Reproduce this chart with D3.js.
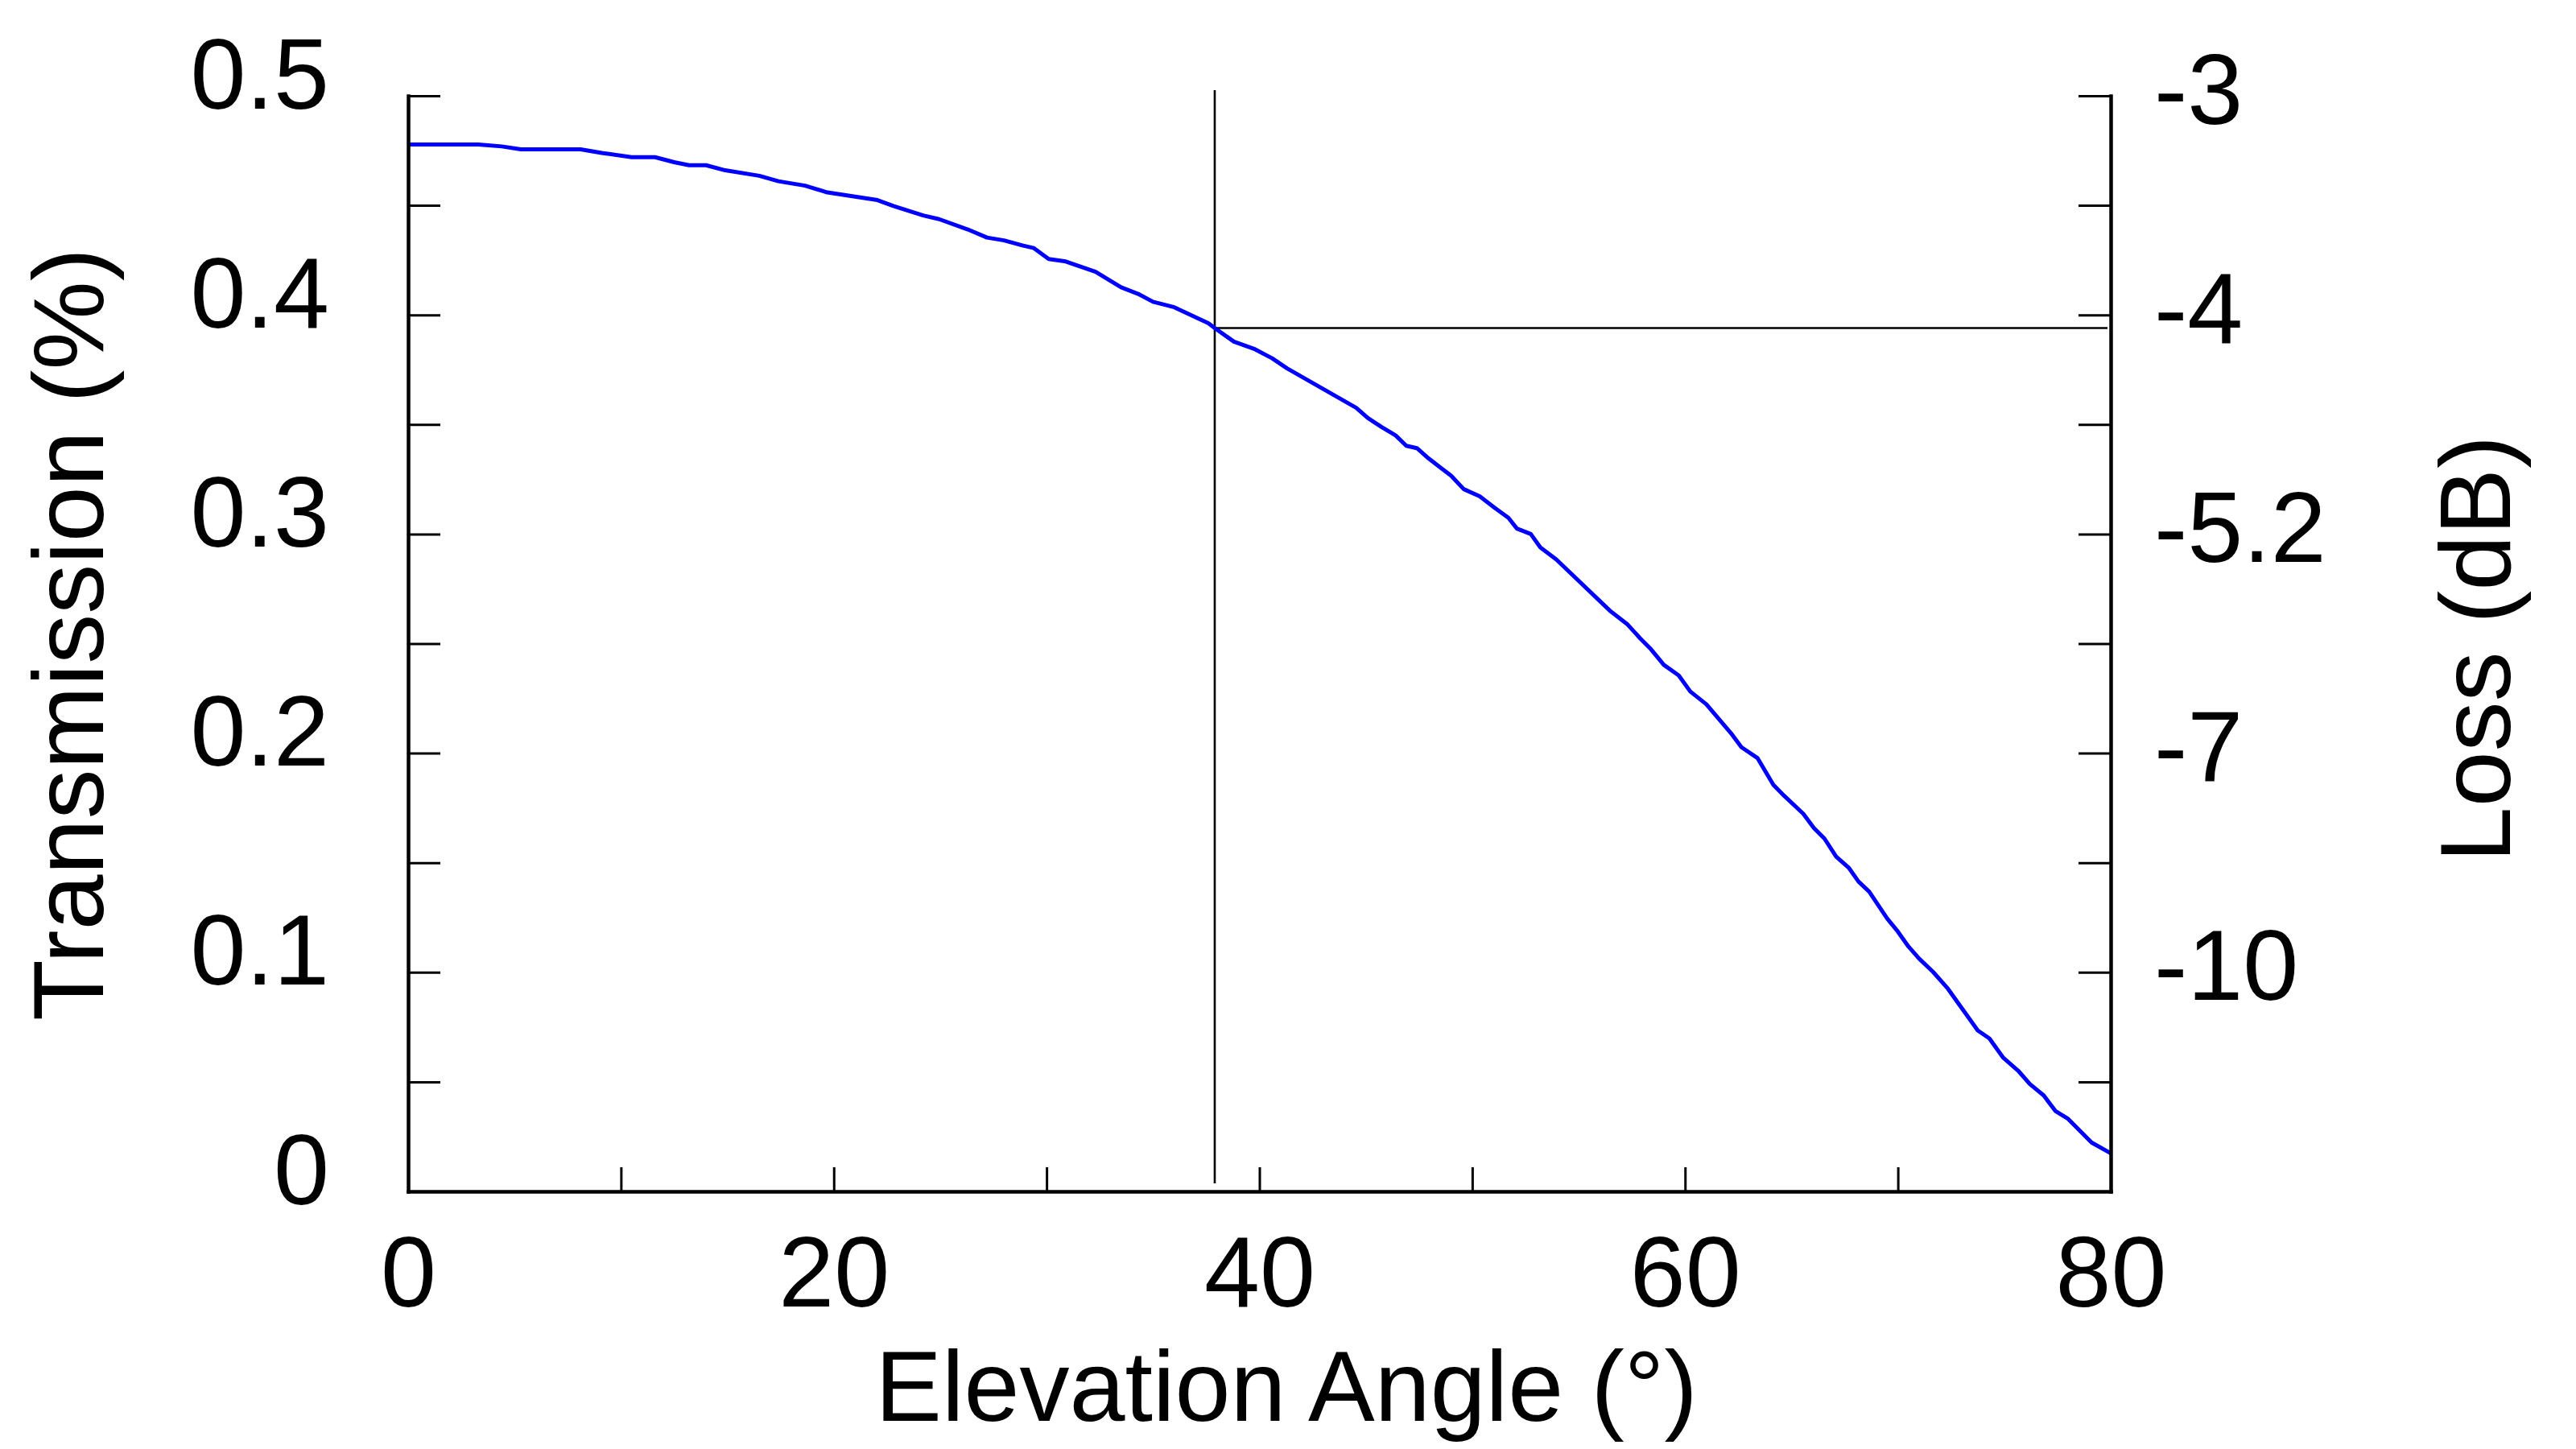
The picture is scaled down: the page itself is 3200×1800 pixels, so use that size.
<!DOCTYPE html>
<html>
<head>
<meta charset="utf-8">
<script src="https://cdn.jsdelivr.net/npm/d3@7"></script>
<style>
  html, body { margin: 0; padding: 0; background: #ffffff; }
  svg { display: block; }
  text { font-family: "Liberation Sans", Arial, Helvetica, sans-serif; fill: #000; }
</style>
</head>
<body>
<svg id="chart" width="3200" height="1800"></svg>
<script>
// ---- data ----
const angles = [0, 3.3, 4.4, 5.3, 8.1, 9.1, 10.5, 11.6, 12.5, 13.2, 14.0, 14.9, 16.5, 17.4, 18.65,
  19.7, 22.05, 22.8, 24.2, 24.95, 26.3, 27.2, 28.0, 28.9, 29.4, 30.1, 30.9, 32.3, 33.5, 34.3,
  35.0, 36.0, 37.6, 37.9, 38.8, 39.8, 40.6, 41.3, 44.55, 45.1, 45.75, 46.4, 46.9, 47.4, 47.9,
  48.5, 49.0, 49.6, 50.35, 51.05, 51.7, 52.1, 52.75, 53.2, 53.95, 56.47, 57.3, 57.9, 58.4, 59.0,
  59.7, 60.25, 61.0, 62.15, 62.65, 63.4, 64.15, 64.65, 65.55, 66.05, 66.55, 67.1, 67.7, 68.15,
  68.65, 69.5, 69.95, 70.5, 71.0, 71.65, 72.35, 72.85, 73.75, 74.3, 74.95, 75.65, 76.2, 76.85,
  77.4, 78.0, 79.1, 80.0];
const transmission = [0.4778, 0.4778, 0.4769, 0.4756, 0.4756, 0.4739, 0.4720, 0.4720, 0.4697, 0.4683, 0.4683, 0.4660, 0.4635, 0.4610, 0.4590,
  0.4559, 0.4524, 0.4497, 0.4454, 0.4437, 0.4390, 0.4353, 0.4340, 0.4316, 0.4305, 0.4255, 0.4244, 0.4197, 0.4126, 0.4096,
  0.4060, 0.4035, 0.3962, 0.3940, 0.3878, 0.3843, 0.3802, 0.3756, 0.3576, 0.3529, 0.3488, 0.3450, 0.3403, 0.3392, 0.3349,
  0.3304, 0.3267, 0.3205, 0.3172, 0.3120, 0.3074, 0.3025, 0.3000, 0.2939, 0.2884, 0.2650, 0.2587, 0.2523, 0.2474, 0.2403,
  0.2355, 0.2281, 0.2223, 0.2092, 0.2027, 0.1978, 0.1855, 0.1806, 0.1724, 0.1659, 0.1610, 0.1528, 0.1476, 0.1414,
  0.1368, 0.1245, 0.1192, 0.1117, 0.1062, 0.1002, 0.0925, 0.0857, 0.0735, 0.0698, 0.0610, 0.0551, 0.0490, 0.0438,
  0.0367, 0.0331, 0.0223, 0.0174];

const xTicks = [0, 10, 20, 30, 40, 50, 60, 70, 80];
const xTickLabels = ["0", "", "20", "", "40", "", "60", "", "80"];
const yTicks = [0, 0.05, 0.1, 0.15, 0.2, 0.25, 0.3, 0.35, 0.4, 0.45, 0.5];
const yTickLabels = ["0", "", "0.1", "", "0.2", "", "0.3", "", "0.4", "", "0.5"];
const lossTickLabels = ["", "", "-10", "", "-7", "", "-5.2", "", "-4", "", "-3"];

const refAngle = 37.9;
const refTransmission = 0.394;

const xTitle = "Elevation Angle (°)";
const yTitle = "Transmission (%)";
const y2Title = "Loss (dB)";

// ---- layout ----
const svg = d3.select("#chart");
const x = d3.scaleLinear().domain([0, 80]).range([507, 2622]);
const y = d3.scaleLinear().domain([0, 0.5]).range([1480, 119]);
const FS = 124;

// reference lines
svg.append("line")
  .attr("x1", x(refAngle)).attr("x2", x(refAngle))
  .attr("y1", y(0.5) - 7).attr("y2", y(0) - 10)
  .attr("stroke", "#000").attr("stroke-width", 2.6);
svg.append("line")
  .attr("x1", x(refAngle)).attr("x2", x(80) - 4)
  .attr("y1", y(refTransmission)).attr("y2", y(refTransmission))
  .attr("stroke", "#000").attr("stroke-width", 2.6);

// curve
const pts = angles.map((a, i) => [a, transmission[i]]);
svg.append("path")
  .datum(pts)
  .attr("fill", "none")
  .attr("stroke", "#0000ff")
  .attr("stroke-width", 5)
  .attr("stroke-linejoin", "round")
  .attr("d", d3.line().x(d => x(d[0])).y(d => y(d[1])));

function styleAxis(g, domainW, tickW) {
  g.select(".domain").attr("stroke", "#000").attr("stroke-width", domainW).attr("stroke-linecap", "square");
  g.selectAll(".tick line").attr("stroke", "#000").attr("stroke-width", tickW);
  g.selectAll(".tick text")
    .attr("font-family", '"Liberation Sans", Arial, sans-serif')
    .attr("font-size", FS).attr("fill", "#000");
}

// left axis
const gL = svg.append("g").attr("transform", `translate(${x(0)},0)`)
  .call(d3.axisLeft(y).tickValues(yTicks).tickSizeInner(-40).tickSizeOuter(0).tickPadding(98)
    .tickFormat((d, i) => yTickLabels[i]));
styleAxis(gL, 4.5, 3);
gL.selectAll(".tick text").attr("dy", "15px");

// right axis
const gR = svg.append("g").attr("transform", `translate(${x(80)},0)`)
  .call(d3.axisRight(y).tickValues(yTicks).tickSizeInner(-40).tickSizeOuter(0).tickPadding(54)
    .tickFormat((d, i) => lossTickLabels[i]));
styleAxis(gR, 4.5, 3);
gR.selectAll(".tick text").attr("dy", "34px");

// bottom axis
const gB = svg.append("g").attr("transform", `translate(0,${y(0)})`)
  .call(d3.axisBottom(x).tickValues(xTicks).tickSizeInner(-30).tickSizeOuter(0).tickPadding(143)
    .tickFormat((d, i) => xTickLabels[i]));
styleAxis(gB, 4.5, 3);
gB.selectAll(".tick text").attr("dy", "0");

// titles
svg.append("text").attr("x", 1598).attr("y", 1765)
  .attr("text-anchor", "middle").attr("font-size", FS).text(xTitle);
svg.append("text").attr("transform", "translate(128,788) rotate(-90)")
  .attr("text-anchor", "middle").attr("font-size", FS).text(yTitle);
svg.append("text").attr("transform", "translate(3118,806) rotate(-90)")
  .attr("text-anchor", "middle").attr("font-size", FS).text(y2Title);
</script>
</body>
</html>
